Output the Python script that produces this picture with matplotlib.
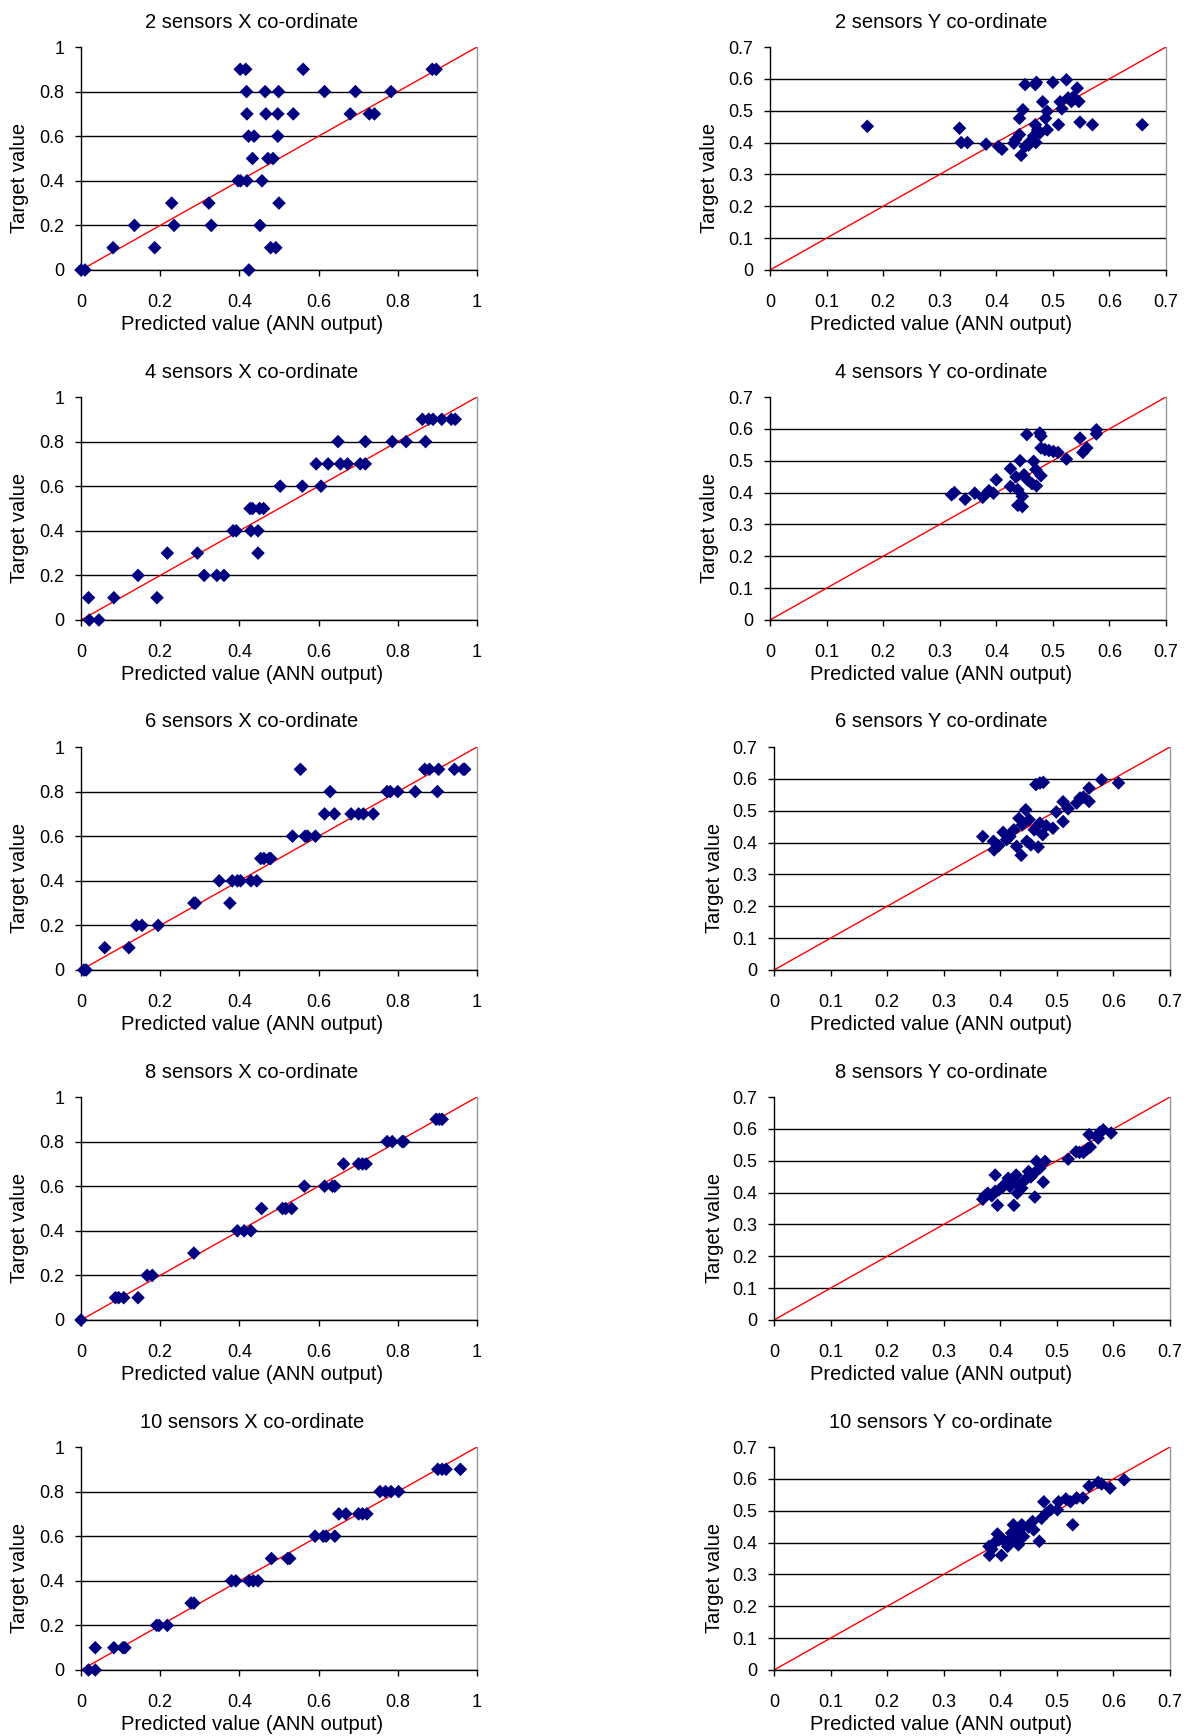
import matplotlib
matplotlib.use("Agg")
import matplotlib.pyplot as plt

plt.rcParams['font.family'] = ['Liberation Sans', 'DejaVu Sans']

# ---------------- data (predicted = ANN output, target) ----------------
s2x_pred = [0.0, 0.01, 0.081, 0.135, 0.186, 0.229, 0.235, 0.323, 0.329, 0.397, 0.403, 0.419, 0.457,
            0.402, 0.416, 0.561, 0.887, 0.897, 0.418, 0.465, 0.499, 0.615, 0.693, 0.783,
            0.419, 0.467, 0.497, 0.536, 0.680, 0.728, 0.741, 0.423, 0.437, 0.497,
            0.433, 0.472, 0.485, 0.500, 0.452, 0.479, 0.492, 0.424]
s2x_target = [0, 0, 0.1, 0.2, 0.1, 0.3, 0.2, 0.3, 0.2, 0.4, 0.4, 0.4, 0.4,
              0.9, 0.9, 0.9, 0.9, 0.9, 0.8, 0.8, 0.8, 0.8, 0.8, 0.8,
              0.7, 0.7, 0.7, 0.7, 0.7, 0.7, 0.7, 0.6, 0.6, 0.6,
              0.5, 0.5, 0.5, 0.3, 0.2, 0.1, 0.1, 0.0]

s2y_pred = [0.172, 0.335, 0.338, 0.349, 0.382, 0.404, 0.410, 0.431, 0.434, 0.444, 0.441, 0.451, 0.457,
            0.441, 0.447, 0.451, 0.469, 0.471, 0.500, 0.524, 0.543, 0.482, 0.490, 0.487, 0.469, 0.473,
            0.490, 0.466, 0.470, 0.463, 0.510, 0.513, 0.516, 0.527, 0.533, 0.536, 0.546, 0.548, 0.570,
            0.658, 0.477]
s2y_target = [0.451, 0.445, 0.400, 0.400, 0.395, 0.388, 0.379, 0.398, 0.409, 0.360, 0.425, 0.388, 0.392,
              0.476, 0.503, 0.582, 0.582, 0.589, 0.589, 0.597, 0.571, 0.528, 0.498, 0.476, 0.456, 0.440,
              0.440, 0.421, 0.400, 0.409, 0.456, 0.528, 0.506, 0.540, 0.529, 0.543, 0.529, 0.464, 0.456,
              0.456, 0.430]

s4x_pred = [0.019, 0.021, 0.045, 0.083, 0.144, 0.192, 0.218, 0.294, 0.311, 0.343, 0.361, 0.384, 0.392,
            0.429, 0.447, 0.447, 0.427, 0.433, 0.451, 0.461, 0.503, 0.559, 0.606,
            0.594, 0.624, 0.655, 0.673, 0.705, 0.718, 0.649, 0.718, 0.786, 0.821, 0.870,
            0.862, 0.878, 0.889, 0.911, 0.935, 0.945]
s4x_target = [0.1, 0, 0, 0.1, 0.2, 0.1, 0.3, 0.3, 0.2, 0.2, 0.2, 0.4, 0.4,
              0.4, 0.4, 0.3, 0.5, 0.5, 0.5, 0.5, 0.6, 0.6, 0.6,
              0.7, 0.7, 0.7, 0.7, 0.7, 0.7, 0.8, 0.8, 0.8, 0.8, 0.8,
              0.9, 0.9, 0.9, 0.9, 0.9, 0.9]

s4y_pred = [0.321, 0.326, 0.345, 0.362, 0.376, 0.387, 0.395, 0.400, 0.425, 0.425, 0.435, 0.442, 0.438,
            0.446, 0.438, 0.446, 0.449, 0.454, 0.455, 0.463, 0.466, 0.470, 0.471, 0.479, 0.477, 0.479,
            0.479, 0.486, 0.493, 0.501, 0.509, 0.524, 0.548, 0.553, 0.560, 0.577, 0.577]
s4y_target = [0.393, 0.400, 0.379, 0.398, 0.385, 0.406, 0.398, 0.440, 0.475, 0.419, 0.449, 0.500, 0.409,
              0.388, 0.360, 0.356, 0.456, 0.582, 0.440, 0.428, 0.498, 0.472, 0.421, 0.453, 0.587, 0.577,
              0.540, 0.535, 0.532, 0.529, 0.526, 0.505, 0.571, 0.526, 0.540, 0.597, 0.584]

s6x_pred = [0.007, 0.013, 0.060, 0.121, 0.140, 0.154, 0.195, 0.285, 0.289, 0.376, 0.349, 0.382, 0.395,
            0.403, 0.429, 0.444, 0.454, 0.462, 0.475, 0.479, 0.534, 0.566, 0.572, 0.592,
            0.615, 0.640, 0.682, 0.701, 0.713, 0.738, 0.629, 0.773, 0.781, 0.800, 0.844, 0.900,
            0.554, 0.868, 0.880, 0.903, 0.943, 0.965, 0.969]
s6x_target = [0, 0, 0.1, 0.1, 0.2, 0.2, 0.2, 0.3, 0.3, 0.3, 0.4, 0.4, 0.4,
              0.4, 0.4, 0.4, 0.5, 0.5, 0.5, 0.5, 0.6, 0.6, 0.6, 0.6,
              0.7, 0.7, 0.7, 0.7, 0.7, 0.7, 0.8, 0.8, 0.8, 0.8, 0.8, 0.8,
              0.9, 0.9, 0.9, 0.9, 0.9, 0.9, 0.9]

s6y_pred = [0.369, 0.388, 0.389, 0.397, 0.405, 0.411, 0.417, 0.424, 0.429, 0.433, 0.437, 0.439, 0.445,
            0.447, 0.451, 0.454, 0.460, 0.463, 0.470, 0.476, 0.467, 0.470, 0.475, 0.481, 0.493, 0.499,
            0.511, 0.511, 0.520, 0.535, 0.541, 0.547, 0.557, 0.557, 0.579, 0.609]
s6y_target = [0.419, 0.404, 0.377, 0.390, 0.432, 0.409, 0.419, 0.440, 0.388, 0.476, 0.360, 0.456, 0.503,
              0.404, 0.472, 0.393, 0.440, 0.582, 0.587, 0.589, 0.386, 0.461, 0.425, 0.453, 0.445, 0.496,
              0.466, 0.528, 0.506, 0.524, 0.540, 0.543, 0.529, 0.571, 0.597, 0.587]

s8x_pred = [0.0, 0.087, 0.095, 0.108, 0.144, 0.167, 0.180, 0.285, 0.395, 0.412, 0.429, 0.456,
            0.509, 0.517, 0.532, 0.564, 0.615, 0.635, 0.641, 0.663, 0.701, 0.711, 0.720,
            0.773, 0.786, 0.811, 0.815, 0.897, 0.905, 0.912]
s8x_target = [0, 0.1, 0.1, 0.1, 0.1, 0.2, 0.2, 0.3, 0.4, 0.4, 0.4, 0.5,
              0.5, 0.5, 0.5, 0.6, 0.6, 0.6, 0.6, 0.7, 0.7, 0.7, 0.7,
              0.8, 0.8, 0.8, 0.8, 0.9, 0.9, 0.9]

s8y_pred = [0.369, 0.373, 0.378, 0.385, 0.391, 0.395, 0.391, 0.398, 0.405, 0.410, 0.414, 0.417, 0.423,
            0.424, 0.428, 0.430, 0.432, 0.438, 0.441, 0.447, 0.450, 0.454, 0.460, 0.461, 0.464, 0.470,
            0.476, 0.479, 0.520, 0.534, 0.540, 0.547, 0.554, 0.559, 0.557, 0.573, 0.576, 0.582, 0.596]
s8y_target = [0.379, 0.390, 0.398, 0.390, 0.455, 0.360, 0.404, 0.409, 0.419, 0.430, 0.445, 0.419, 0.435,
              0.360, 0.455, 0.398, 0.425, 0.414, 0.435, 0.445, 0.466, 0.449, 0.461, 0.386, 0.498, 0.477,
              0.433, 0.498, 0.505, 0.528, 0.526, 0.526, 0.537, 0.543, 0.582, 0.571, 0.589, 0.597, 0.587]

s10x_pred = [0.019, 0.036, 0.036, 0.083, 0.106, 0.111, 0.191, 0.197, 0.218, 0.278, 0.285, 0.380, 0.391,
             0.424, 0.435, 0.447, 0.481, 0.522, 0.527, 0.591, 0.612, 0.619, 0.641, 0.651, 0.669,
             0.701, 0.711, 0.722, 0.755, 0.769, 0.783, 0.802, 0.901, 0.912, 0.922, 0.958]
s10x_target = [0, 0, 0.1, 0.1, 0.1, 0.1, 0.2, 0.2, 0.2, 0.3, 0.3, 0.4, 0.4,
               0.4, 0.4, 0.4, 0.5, 0.5, 0.5, 0.6, 0.6, 0.6, 0.6, 0.7, 0.7,
               0.7, 0.7, 0.7, 0.8, 0.8, 0.8, 0.8, 0.9, 0.9, 0.9, 0.9]

s10y_pred = [0.380, 0.381, 0.385, 0.390, 0.395, 0.398, 0.402, 0.405, 0.413, 0.416, 0.420, 0.423, 0.428,
             0.432, 0.434, 0.438, 0.441, 0.450, 0.457, 0.459, 0.469, 0.473, 0.477, 0.482, 0.489, 0.501,
             0.503, 0.516, 0.524, 0.528, 0.535, 0.546, 0.557, 0.573, 0.579, 0.594, 0.619]
s10y_target = [0.388, 0.360, 0.379, 0.400, 0.427, 0.409, 0.360, 0.409, 0.388, 0.409, 0.430, 0.456, 0.409,
               0.393, 0.440, 0.456, 0.419, 0.449, 0.466, 0.440, 0.404, 0.476, 0.528, 0.493, 0.503, 0.503,
               0.528, 0.537, 0.528, 0.456, 0.540, 0.540, 0.577, 0.589, 0.584, 0.571, 0.597]

titles = ["2 sensors X co-ordinate", "2 sensors Y co-ordinate",
          "4 sensors X co-ordinate", "4 sensors Y co-ordinate",
          "6 sensors X co-ordinate", "6 sensors Y co-ordinate",
          "8 sensors X co-ordinate", "8 sensors Y co-ordinate",
          "10 sensors X co-ordinate", "10 sensors Y co-ordinate"]
x_ticks = [0, 0.2, 0.4, 0.6, 0.8, 1]
x_ticklabels = ["0", "0.2", "0.4", "0.6", "0.8", "1"]
y_ticks = [0, 0.1, 0.2, 0.3, 0.4, 0.5, 0.6, 0.7]
y_ticklabels = ["0", "0.1", "0.2", "0.3", "0.4", "0.5", "0.6", "0.7"]
xlabel = "Predicted value (ANN output)"
ylabel = "Target value"

panels = [(s2x_pred, s2x_target), (s2y_pred, s2y_target),
          (s4x_pred, s4x_target), (s4y_pred, s4y_target),
          (s6x_pred, s6x_target), (s6y_pred, s6y_target),
          (s8x_pred, s8x_target), (s8y_pred, s8y_target),
          (s10x_pred, s10x_target), (s10y_pred, s10y_target)]

# ---------------- layout ----------------
W, H = 1194, 1736
fig = plt.figure(figsize=(W / 100, H / 100), dpi=100)
fig.patch.set_facecolor("white")

row_tops = [47, 397, 747, 1097, 1447]
ax_h = 223
FS = 14.5
TFS = 13

for i, (xp, yt) in enumerate(panels):
    row, col = divmod(i, 2)
    top = row_tops[row]
    if col == 0:
        x0, x1 = 81, 477
        ticks, labels, lim = x_ticks, x_ticklabels, 1.0
        txt_cx = 252
        ylab_x = 20
    else:
        x0, x1 = (770, 1166) if row < 2 else (774, 1170)
        ticks, labels, lim = y_ticks, y_ticklabels, 0.7
        txt_cx = 941
        ylab_x = 710 if row < 2 else 714
    ax = fig.add_axes([x0 / W, 1 - (top + ax_h) / H, (x1 - x0) / W, ax_h / H])
    ax.set_xlim(0, lim)
    ax.set_ylim(0, lim)
    ax.set_xticks(ticks)
    ax.set_xticklabels(labels)
    ax.set_yticks(ticks)
    ax.set_yticklabels(labels)
    ax.yaxis.grid(True, color="black", linewidth=1.0)
    ax.get_ygridlines()[-1].set_visible(False)
    ax.set_axisbelow(True)
    for s in ["left", "bottom"]:
        ax.spines[s].set_color("black")
        ax.spines[s].set_linewidth(1.0)
    ax.spines["top"].set_visible(False)
    ax.spines["right"].set_color("#999999")
    ax.spines["right"].set_linewidth(1.0)
    ax.tick_params(direction="out", length=4, width=1, labelsize=TFS, colors="black")
    ax.tick_params(axis="x", pad=13)
    ax.tick_params(axis="y", pad=8)

    ax.plot([0, lim], [0, lim], color="red", linewidth=1.0, zorder=2)
    ax.scatter(xp, yt, marker="D", s=48, color="#000080", edgecolors="none",
               zorder=3, clip_on=False)

    fig.text(txt_cx / W, 1 - (top - 25) / H, titles[i], ha="center", va="center", fontsize=FS)
    fig.text(txt_cx / W, 1 - (top + ax_h + 54) / H, xlabel, ha="center", va="center", fontsize=FS)
    fig.text(ylab_x / W, 1 - (top + ax_h / 2 + 19) / H, ylabel, ha="center", va="center",
             rotation=90, fontsize=FS)

fig.savefig("out.png", dpi=100)
